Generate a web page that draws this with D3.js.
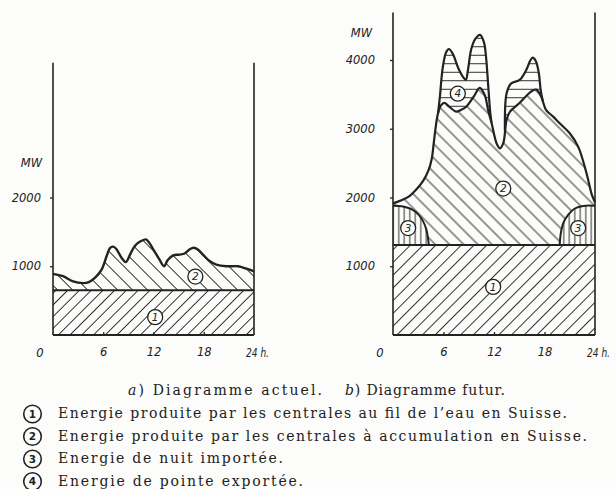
<!DOCTYPE html>
<html>
<head>
<meta charset="utf-8">
<script src="https://cdn.jsdelivr.net/npm/d3@7"></script>
<style>
body { margin: 0; background: #fcfcfa; }
</style>
</head>
<body>
<script>
// a) present day : hours / MW
var runA = 650
var hoursA = [0, 1.2, 2.4, 3.6, 4.2, 5.0, 5.8, 6.4, 6.8, 7.2, 7.6, 8.2, 8.7, 9.2, 9.75, 10.35, 11.1, 11.5, 12.1, 12.7, 13.25, 13.7, 14.3, 15.1, 15.7, 16.3, 16.8, 17.3, 17.9, 18.7, 19.5, 20.7, 22.1, 23.1, 24]
var accumA = [890, 855, 780, 755, 765, 830, 950, 1145, 1265, 1285, 1245, 1120, 1060, 1170, 1290, 1355, 1390, 1340, 1220, 1100, 1000, 1090, 1155, 1170, 1185, 1245, 1270, 1245, 1170, 1075, 1025, 1000, 1000, 965, 925]

// b) future
var runB = 1310
var hoursB = [0, 1.0, 2.0, 2.8, 3.6, 4.2, 4.6, 4.85, 5.1, 5.35, 5.7, 6.1, 6.6, 7.5, 8.0, 8.7, 9.7, 10.3, 10.9, 11.3, 11.7, 12.3, 12.7, 13.1, 13.5, 13.9, 15.0, 16.4, 17.0, 17.6, 18.2, 19.0, 19.8, 21.0, 22.0, 23.0, 23.6, 24]
var accumB = [1915, 1960, 2025, 2120, 2245, 2390, 2560, 2800, 3050, 3225, 3340, 3375, 3330, 3250, 3270, 3320, 3490, 3595, 3490, 3270, 3090, 2790, 2715, 2790, 3130, 3250, 3370, 3540, 3570, 3470, 3270, 3180, 3080, 2935, 2740, 2350, 2050, 1930]

// peak export (4), morning and afternoon humps
var hoursExpAm = [5.35, 5.6, 5.75, 5.95, 6.3, 6.65, 7.1, 7.8, 8.4, 8.65, 8.9, 9.3, 9.8, 10.35, 10.8, 11.05, 11.3, 11.55, 11.7]
var exportAm = [3225, 3500, 3720, 3920, 4110, 4160, 4090, 3870, 3740, 3710, 3850, 4160, 4310, 4365, 4260, 4050, 3650, 3240, 3090]
var hoursExpPm = [13.3, 13.5, 14.05, 15.05, 15.85, 16.3, 16.6, 16.95, 17.3, 17.55, 17.8]
var exportPm = [2960, 3515, 3660, 3710, 3860, 3990, 4035, 3990, 3830, 3560, 3400]

// night import (3)
var hoursImpNight = [0, 1.2, 2.2, 3.0, 3.55, 3.95, 4.15, 4.25]
var importNight = [1880, 1870, 1830, 1755, 1660, 1540, 1415, 1310]
var hoursImpEve = [19.8, 19.95, 20.25, 20.85, 21.6, 22.6, 24]
var importEve = [1310, 1490, 1635, 1755, 1840, 1878, 1880]

var yTicksA = [1000, 2000]
var yTicksB = [1000, 2000, 3000, 4000]
var xTicks = [6, 12, 18]

var captionA = "Diagramme actuel."
var captionB = "Diagramme futur."
var legend = [
  "Energie produite par les centrales au fil de l\u2019eau en Suisse.",
  "Energie produite par les centrales \u00e0 accumulation en Suisse.",
  "Energie de nuit import\u00e9e.",
  "Energie de pointe export\u00e9e."
]

var bg = "#fcfcfa"
var ink = "#222"

var svg = d3.select("body").append("svg")
            .attr("width", 616)
            .attr("height", 489)

svg.append("rect").attr("width", 616).attr("height", 489).attr("fill", bg)

var defs = svg.append("defs")
function hatch(id, angle, gap) {
  var p = defs.append("pattern")
              .attr("id", id)
              .attr("patternUnits", "userSpaceOnUse")
              .attr("width", gap)
              .attr("height", gap)
              .attr("patternTransform", "rotate(" + angle + ")")
  p.append("rect").attr("width", gap).attr("height", gap).attr("fill", bg)
  p.append("line")
   .attr("x1", gap / 2).attr("y1", 0)
   .attr("x2", gap / 2).attr("y2", gap)
   .attr("stroke", "#262626")
   .attr("stroke-width", 0.95)
}
hatch("fwdA", 45, 8.3)
hatch("backA", -45, 10.6)
hatch("fwdB", 45, 9)
hatch("backB", -45, 10)
hatch("vert", 0, 5.5)
hatch("horiz", 90, 8.5)

var y = d3.scaleLinear().domain([0, 4000]).range([335, 60])
var xA = d3.scaleLinear().domain([0, 24]).range([53, 254])
var xB = d3.scaleLinear().domain([0, 24]).range([393, 595])

function zip(h, v) { return h.map(function (d, i) { return [d, v[i]] }) }

function drawPanel(x) {
  var g = svg.append("g")
  var curve = d3.curveCatmullRom.alpha(0.5)

  var area = function (lo) {
    return d3.area().curve(curve)
             .x(function (d) { return x(d[0]) })
             .y0(y(lo))
             .y1(function (d) { return y(d[1]) })
  }
  var line = d3.line().curve(curve)
               .x(function (d) { return x(d[0]) })
               .y(function (d) { return y(d[1]) })
  return { g: g, area: area, line: line }
}

var labelFont = function (s) {
  return s.attr("fill", ink)
          .style("font-family", "DejaVu Sans").style("font-style", "italic").style("font-size", "11.5px")
}

function frame(g, x, top, yTicks, labelGap) {
  // side posts and base line
  g.append("line").attr("x1", x(0)).attr("x2", x(0)).attr("y1", y(top)).attr("y2", y(0))
   .attr("stroke", ink).attr("stroke-width", 1.6)
  g.append("line").attr("x1", x(24)).attr("x2", x(24)).attr("y1", y(top)).attr("y2", y(0))
   .attr("stroke", ink).attr("stroke-width", 1.6)
  g.append("line").attr("x1", x(0)).attr("x2", x(24)).attr("y1", y(0)).attr("y2", y(0))
   .attr("stroke", ink).attr("stroke-width", 1.8)

  var ya = g.append("g").attr("transform", "translate(" + x(0) + ",0)")
            .call(d3.axisLeft(y).tickValues(yTicks).tickSize(3).tickPadding(labelGap).tickFormat(d3.format("d")))
  var xa = g.append("g").attr("transform", "translate(0," + y(0) + ")")
            .call(d3.axisBottom(x).tickValues(xTicks).tickSize(-3).tickPadding(13))
  ;[ya, xa].forEach(function (a) {
    a.select(".domain").remove()
    a.selectAll("line").attr("stroke", ink).attr("stroke-width", 1.3)
    labelFont(a.selectAll("text"))
  })
  labelFont(g.append("text").attr("x", x(0) - 13).attr("y", y(0) + 21.5)
   .attr("text-anchor", "middle"))
   .text("0")
  labelFont(g.append("text").attr("x", x(24) - 8).attr("y", y(0) + 21.5)
   .attr("textLength", 23).attr("lengthAdjust", "spacingAndGlyphs"))
   .text("24 h.")
}

function mw(g, x, v, dx) {
  labelFont(g.append("text").attr("x", x(0) - dx).attr("y", y(v) + 4)
   .attr("text-anchor", "end"))
   .text("MW")
}

function tag(g, x, h, v, n) {
  g.append("circle").attr("cx", x(h)).attr("cy", y(v)).attr("r", 7.5)
   .attr("fill", bg).attr("stroke", ink).attr("stroke-width", 1.3)
  g.append("text").attr("x", x(h)).attr("y", y(v) + 3.8)
   .attr("text-anchor", "middle").attr("fill", ink)
   .style("font-family", "DejaVu Sans").style("font-style", "italic").style("font-size", "10.5px")
   .text(n)
}

// ---- panel a
var pa = drawPanel(xA)
pa.g.append("path").datum([[0, runA], [24, runA]]).attr("d", pa.area(0)).attr("fill", "url(#fwdA)")
pa.g.append("path").datum(zip(hoursA, accumA)).attr("d", pa.area(runA)).attr("fill", "url(#backA)")
pa.g.append("path").datum([[0, runA], [24, runA]]).attr("d", pa.line)
    .attr("fill", "none").attr("stroke", ink).attr("stroke-width", 2)
pa.g.append("path").datum(zip(hoursA, accumA)).attr("d", pa.line)
    .attr("fill", "none").attr("stroke", ink).attr("stroke-width", 2.4)
frame(pa.g, xA, 3960, yTicksA, 9)
mw(pa.g, xA, 2500, 11)
tag(pa.g, xA, 12.2, 260, "1")
tag(pa.g, xA, 17, 850, "2")

// ---- panel b
var pb = drawPanel(xB)
pb.g.append("path").datum([[0, runB], [24, runB]]).attr("d", pb.area(0)).attr("fill", "url(#fwdB)")
pb.g.append("path").datum(zip(hoursExpAm, exportAm)).attr("d", pb.area(runB)).attr("fill", "url(#horiz)")
pb.g.append("path").datum(zip(hoursExpPm, exportPm)).attr("d", pb.area(runB)).attr("fill", "url(#horiz)")
pb.g.append("path").datum(zip(hoursB, accumB)).attr("d", pb.area(runB)).attr("fill", "url(#backB)")
pb.g.append("path").datum(zip(hoursImpNight, importNight)).attr("d", pb.area(runB)).attr("fill", "url(#vert)")
pb.g.append("path").datum(zip(hoursImpEve, importEve)).attr("d", pb.area(runB)).attr("fill", "url(#vert)")

;[zip(hoursImpNight, importNight), zip(hoursImpEve, importEve)].forEach(function (d) {
  pb.g.append("path").datum(d).attr("d", pb.line)
      .attr("fill", "none").attr("stroke", ink).attr("stroke-width", 2)
})
pb.g.append("path").datum([[0, runB], [24, runB]]).attr("d", pb.line)
    .attr("fill", "none").attr("stroke", ink).attr("stroke-width", 2)
;[zip(hoursExpAm, exportAm), zip(hoursExpPm, exportPm)].forEach(function (d) {
  pb.g.append("path").datum(d).attr("d", pb.line)
      .attr("fill", "none").attr("stroke", ink).attr("stroke-width", 2.2)
})
pb.g.append("path").datum(zip(hoursB, accumB)).attr("d", pb.line)
    .attr("fill", "none").attr("stroke", ink).attr("stroke-width", 2.2)
frame(pb.g, xB, 4690, yTicksB, 15)
mw(pb.g, xB, 4400, 21)
tag(pb.g, xB, 11.9, 700, "1")
tag(pb.g, xB, 13.1, 2130, "2")
tag(pb.g, xB, 1.8, 1555, "3")
tag(pb.g, xB, 22, 1555, "3")
tag(pb.g, xB, 7.7, 3510, "4")

// ---- caption and legend
var serif = "DejaVu Serif"
var cap = svg.append("g").style("font-family", serif).style("font-size", "14px").attr("fill", ink)
var ca = cap.append("text").attr("x", 128).attr("y", 395).attr("textLength", 194).attr("lengthAdjust", "spacing")
ca.append("tspan").style("font-style", "italic").text("a")
ca.append("tspan").text(") " + captionA)
var cb = cap.append("text").attr("x", 345).attr("y", 395).attr("textLength", 160).attr("lengthAdjust", "spacing")
cb.append("tspan").style("font-style", "italic").text("b")
cb.append("tspan").text(") " + captionB)

var legendWidth = [509, 529, 225, 245]
legend.forEach(function (t, i) {
  var base = 418 + i * 22.5
  cap.append("circle").attr("cx", 32.5).attr("cy", base - 4).attr("r", 8.8)
     .attr("fill", "none").attr("stroke", ink).attr("stroke-width", 1.6)
  cap.append("text").attr("x", 32.5).attr("y", base - 0.2)
     .attr("text-anchor", "middle")
     .style("font-family", "DejaVu Sans").style("font-weight", "bold").style("font-size", "10.5px")
     .text(i + 1)
  cap.append("text").attr("x", 58).attr("y", base)
     .attr("textLength", legendWidth[i]).attr("lengthAdjust", "spacing")
     .text(t)
})
</script>
</body>
</html>
